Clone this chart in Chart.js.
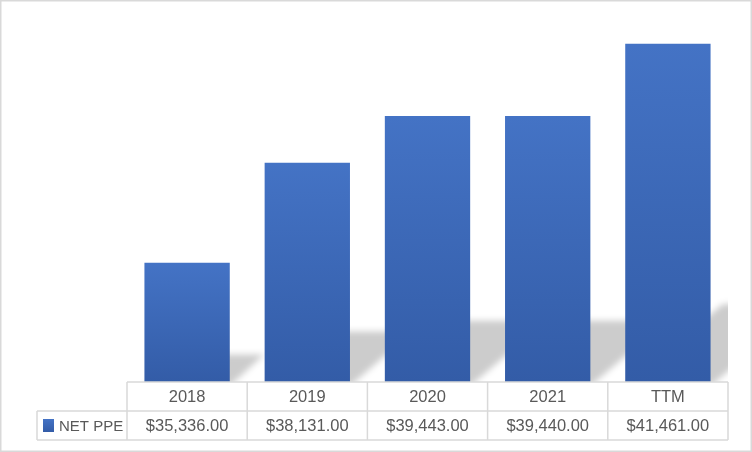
<!DOCTYPE html>
<html>
<head>
    <meta charset="UTF-8">
    <title>NET PPE</title>
    <script src="https://cdn.jsdelivr.net/npm/chart.js@4.4.0/dist/chart.umd.min.js"></script>
    <style>
        body { margin: 0; background: #fff; }
        #box { width: 752px; height: 452px; position: relative; }
    </style>
</head>
<body>
<div id="box"><canvas id="myChart"></canvas></div>

<script>
    // data
    const categories = ['2018', '2019', '2020', '2021', 'TTM'];
    const netPpe = [35336, 38131, 39443, 39440, 41461];
    const seriesName = 'NET PPE';

    const fmt = v => '$' + v.toLocaleString('en-US', { minimumFractionDigits: 2, maximumFractionDigits: 2 });

    const GRID = '#d9d9d9';
    const TEXT = '#595959';
    const FONT = '16.5px "Liberation Sans", Arial, sans-serif';

    // perspective shadow behind each bar
    const shadowPlugin = {
        id: 'barShadow',
        beforeDatasetsDraw(chart) {
            const ctx = chart.ctx;
            const area = chart.chartArea;
            const meta = chart.getDatasetMeta(0);
            ctx.save();
            ctx.beginPath();
            ctx.rect(area.left, area.top, area.right - area.left, area.bottom - area.top);
            ctx.clip();
            ctx.filter = 'blur(3px)';
            ctx.fillStyle = 'rgba(0,0,0,0.2)';
            meta.data.forEach(bar => {
                const p = bar.getProps(['x', 'y', 'base', 'width'], true);
                const base = Math.min(p.base, area.bottom);
                const h = base - p.y;
                const dy = h * 0.23;
                const dx = dy * 1.25;
                const l = p.x - p.width / 2, r = p.x + p.width / 2;
                ctx.beginPath();
                ctx.moveTo(l, base + 4);
                ctx.lineTo(r, base + 4);
                ctx.lineTo(r + dx, base - dy);
                ctx.lineTo(l + dx, base - dy);
                ctx.closePath();
                ctx.fill();
            });
            ctx.restore();
        }
    };

    // data table under the plot
    const tablePlugin = {
        id: 'dataTable',
        afterDraw(chart) {
            const ctx = chart.ctx;
            const x = chart.scales.x;
            const area = chart.chartArea;
            const n = categories.length;
            const half = (x.getPixelForValue(1) - x.getPixelForValue(0)) / 2;
            const left = x.getPixelForValue(0) - half;
            const right = x.getPixelForValue(n - 1) + half;
            const top = area.bottom;
            const mid = top + 29;
            const bot = top + 58;
            const legendLeft = 37;

            ctx.save();
            ctx.strokeStyle = GRID;
            ctx.lineWidth = 1.5;
            ctx.beginPath();
            ctx.moveTo(left, top); ctx.lineTo(right, top);
            ctx.moveTo(legendLeft, mid); ctx.lineTo(right, mid);
            ctx.moveTo(legendLeft, bot); ctx.lineTo(right, bot);
            ctx.moveTo(legendLeft, mid); ctx.lineTo(legendLeft, bot);
            for (let i = 0; i <= n; i++) {
                const px = left + i * half * 2;
                ctx.moveTo(px, top); ctx.lineTo(px, bot);
            }
            ctx.stroke();

            ctx.fillStyle = TEXT;
            ctx.font = FONT;
            ctx.textAlign = 'center';
            ctx.textBaseline = 'middle';
            categories.forEach((c, i) => {
                const px = x.getPixelForValue(i);
                ctx.fillText(c, px, (top + mid) / 2 + 1);
                ctx.fillText(fmt(netPpe[i]), px, (mid + bot) / 2 + 1);
            });

            // legend key
            const g = ctx.createLinearGradient(0, mid + 8, 0, mid + 21);
            g.addColorStop(0, '#4473c5');
            g.addColorStop(1, '#335ca7');
            ctx.fillStyle = g;
            ctx.fillRect(43, mid + 8, 11, 13);
            ctx.fillStyle = TEXT;
            ctx.textAlign = 'left';
            ctx.font = '15px "Liberation Sans", Arial, sans-serif';
            ctx.fillText(seriesName, 59, (mid + bot) / 2 + 1);

            // outer border
            ctx.strokeStyle = GRID;
            ctx.lineWidth = 1.5;
            ctx.strokeRect(0.75, 0.75, chart.width - 1.5, chart.height - 1.5);
            ctx.restore();
        }
    };

    const ctx = document.getElementById('myChart').getContext('2d');
    const myChart = new Chart(ctx, {
        type: 'bar',
        data: {
            labels: categories,
            datasets: [{
                label: seriesName,
                data: netPpe,
                backgroundColor: c => {
                    const chart = c.chart;
                    const area = chart.chartArea;
                    if (!area) return '#4472c4';
                    const y = chart.scales.y.getPixelForValue(c.raw);
                    const g = chart.ctx.createLinearGradient(0, y, 0, area.bottom);
                    g.addColorStop(0, '#4473c5');
                    g.addColorStop(1, '#335ca7');
                    return g;
                },
                borderWidth: 0,
                categoryPercentage: 1,
                barPercentage: 0.71
            }]
        },
        options: {
            responsive: true,
            maintainAspectRatio: false,
            animation: false,
            layout: { padding: { left: 127, right: 24, top: 24.5, bottom: 70 } },
            plugins: {
                legend: { display: false },
                tooltip: { enabled: false }
            },
            scales: {
                x: { display: false },
                y: { display: false, min: 32000, max: 42000 }
            }
        },
        plugins: [shadowPlugin, tablePlugin]
    });
</script>
</body>
</html>
